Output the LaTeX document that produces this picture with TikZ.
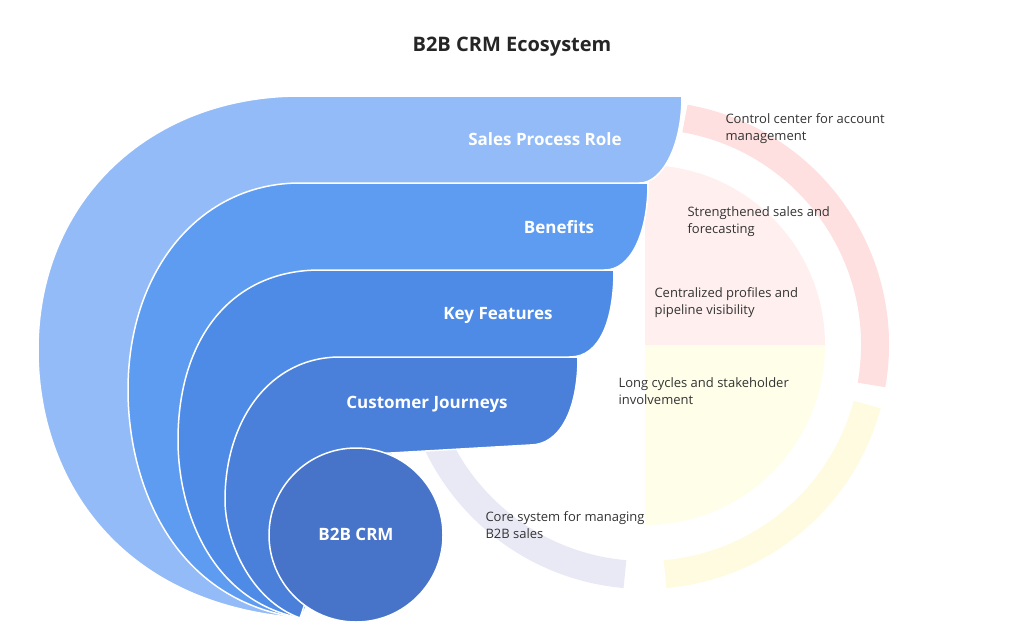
\documentclass[tikz,border=0pt]{standalone}
\usepackage{fontspec}
\setmainfont{Open Sans}
\definecolor{layerA}{HTML}{93BBF7}
\definecolor{layerB}{HTML}{5E9CF2}
\definecolor{layerC}{HTML}{4D8BE6}
\definecolor{layerD}{HTML}{4A7FDA}
\definecolor{coreC}{HTML}{4774C9}
\begin{document}
\begin{tikzpicture}[x=1pt,y=-1pt,
  layer/.style={draw=white,line width=1.5pt},
  label/.style={text=white,font=\fontsize{17}{20}\selectfont\bfseries},
  note/.style={anchor=north west,align=left,text=black!80,font=\fontsize{13}{17}\selectfont},
  ring/.style={line width=28pt,opacity=0.12}]
  \useasboundingbox (0,0) rectangle (1024,640);

  % Background ring
  \coordinate (rc) at (645,345);
  \fill[red!60,opacity=0.1] (rc) -- ++(-90:180) arc (-90:0:180) -- cycle;
  \fill[yellow!70,opacity=0.12] (rc) -- ++(0:180) arc (0:90:180) -- cycle;
  \draw[ring,red] (rc) ++(10:230) arc (10:-80:230);
  \draw[ring,green!60!black] (rc) ++(-95:230) arc (-95:-170:230);
  \draw[ring,blue!40!gray] (rc) ++(-185:230) arc (-185:-265:230);
  \draw[ring,yellow!80!orange] (rc) ++(-275:230) arc (-275:-345:230);

  % Layers
  \filldraw[layer,fill=layerA] (300,618) .. controls (120,605) and (38,480) .. (38,350)
    .. controls (38,200) and (150,96) .. (300,96) -- (682,96)
    .. controls (682,150) and (660,183) .. (640,183) -- (400,300) -- cycle;
  \filldraw[layer,fill=layerB] (300,618) .. controls (170,600) and (128,480) .. (128,390)
    .. controls (128,270) and (200,183) .. (300,183) -- (648,183)
    .. controls (648,235) and (630,270) .. (605,270) -- (400,380) -- cycle;
  \filldraw[layer,fill=layerC] (300,618) .. controls (210,600) and (178,510) .. (178,440)
    .. controls (178,340) and (230,270) .. (320,270) -- (614,270)
    .. controls (614,320) and (600,357) .. (570,357) -- (400,440) -- cycle;
  \filldraw[layer,fill=layerD] (300,618) .. controls (250,600) and (225,540) .. (225,500)
    .. controls (225,420) and (270,357) .. (340,357) -- (578,357)
    .. controls (578,410) and (560,445) .. (530,445) -- (356,455) -- cycle;
  \filldraw[layer,fill=coreC] (356,535) circle (87);

  % Labels
  \node[label] (sales) at (545,139) {Sales Process Role};
  \node[label] (benefits) at (559,227) {Benefits};
  \node[label] (features) at (498,315) {Key Features};
  \node[label] (journeys) at (427,404) {Customer Journeys};
  \node[label] (core) at (356,534) {B2B CRM};

  % Notes
  \node[note] (n1) at (722,110) {Control center for account\\management};
  \node[note] (n2) at (684,203) {Strengthened sales and\\forecasting};
  \node[note] (n3) at (651,284) {Centralized profiles and\\pipeline visibility};
  \node[note] (n4) at (615,374) {Long cycles and stakeholder\\involvement};
  \node[note] (n5) at (482,508) {Core system for managing\\B2B sales};

  \node[font=\fontsize{20}{24}\selectfont\bfseries,text=black!85] (title) at (512,47) {B2B CRM Ecosystem};
\end{tikzpicture}
\end{document}
